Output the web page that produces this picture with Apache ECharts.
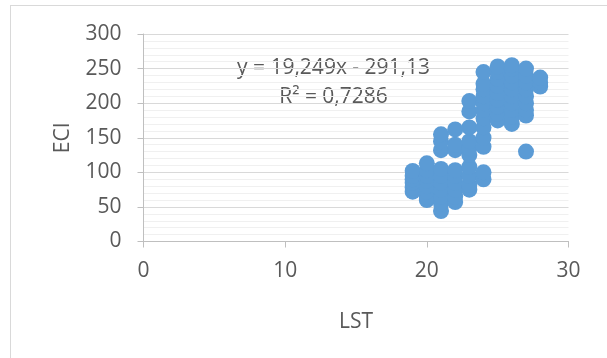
<!DOCTYPE html>
<html>
<head>
<meta charset="utf-8">
<style>
  html, body { margin: 0; padding: 0; background: #fff; overflow: hidden; }
  #frame { position: absolute; left: 10px; top: 5px; width: 700px; height: 500px; border: 1px solid #d9d9d9; }
  #chart { position: absolute; left: 0; top: 0; width: 607px; height: 358px; }
</style>
<script src="https://cdn.jsdelivr.net/npm/echarts@6/dist/echarts.min.js"></script>
</head>
<body>
<div id="frame"></div>
<div id="chart"></div>
<script>
// LST (x) and ECI (y)
const lst = [
  19, 19, 19, 19, 19, 19,
  20, 20, 20, 20, 20, 20, 20, 20,
  21, 21, 21, 21, 21, 21, 21, 21, 21, 21,
  22, 22, 22, 22, 22, 22, 22, 22, 22,
  23, 23, 23, 23, 23, 23, 23, 23, 23, 23,
  24, 24, 24, 24, 24, 24, 24, 24, 24, 24, 24, 24,
  25, 25, 25, 25, 25, 25, 25, 25, 25,
  26, 26, 26, 26, 26, 26, 26, 26, 26, 26,
  27, 27, 27, 27, 27, 27, 27, 27, 27,
  28, 28, 28,
];
const eci = [
  72, 78, 85, 90, 95, 102,
  60, 65, 72, 80, 88, 95, 103, 113,
  44, 55, 65, 75, 85, 95, 105, 132, 145, 155,
  57, 65, 75, 85, 95, 103, 132, 140, 162,
  75, 82, 95, 108, 125, 135, 145, 165, 188, 203,
  90, 100, 137, 150, 165, 178, 190, 200, 210, 220, 228, 245,
  175, 185, 195, 205, 215, 225, 235, 245, 253,
  170, 180, 190, 200, 210, 220, 230, 240, 250, 255,
  130, 182, 190, 200, 210, 220, 230, 240, 250,
  224, 230, 237,
];
const trendText = ["y = 19,249x - 291,13", "R² = 0,7286"];

const font = "'Open Sans', 'Noto Sans', sans-serif";
const textColor = "#595959";
const axisGray = "#bfbfbf";

function trendLabel(text, y) {
  return {
    type: "text",
    x: 333.5,
    y: y,
    style: {
      text: text,
      align: "center",
      verticalAlign: "middle",
      textAlign: "center",
      textVerticalAlign: "middle",
      fontSize: 21,
      fontFamily: font,
      fill: textColor,
    },
  };
}

const chart = echarts.init(document.getElementById("chart"));
chart.setOption({
  animation: false,
  textStyle: { fontFamily: font },
  grid: { left: 143.5, right: 38.5, top: 34, bottom: 116.5 },
  xAxis: {
    type: "value",
    min: 0,
    max: 30,
    interval: 10,
    name: "LST",
    nameLocation: "middle",
    nameGap: 70,
    nameTextStyle: { fontSize: 21, color: textColor, fontFamily: font },
    axisLine: { show: true, lineStyle: { color: axisGray, width: 1 } },
    axisTick: { show: true, length: 6, lineStyle: { color: axisGray } },
    axisLabel: { fontSize: 21, color: textColor, margin: 19, fontFamily: font },
    splitLine: { show: false },
  },
  yAxis: {
    type: "value",
    min: 0,
    max: 300,
    interval: 50,
    name: "ECI",
    nameLocation: "middle",
    nameGap: 70,
    nameTextStyle: { fontSize: 21, color: textColor, fontFamily: font },
    axisLine: { show: true, lineStyle: { color: axisGray, width: 1 } },
    axisTick: { show: true, length: 6, lineStyle: { color: axisGray } },
    axisLabel: { fontSize: 21, color: textColor, margin: 22, fontFamily: font },
    splitLine: { show: true, lineStyle: { color: "#d9d9d9", width: 1 } },
    minorTick: { show: false, splitNumber: 5 },
    minorSplitLine: { show: true, lineStyle: { color: "#f0f0f0", width: 1 } },
  },
  graphic: [trendLabel(trendText[0], 68), trendLabel(trendText[1], 97)],
  series: [
    {
      type: "scatter",
      symbol: "circle",
      symbolSize: 16,
      itemStyle: { color: "#5b9bd5", opacity: 1, borderWidth: 0 },
      data: lst.map((x, i) => [x, eci[i]]),
    },
  ],
});
</script>
</body>
</html>
